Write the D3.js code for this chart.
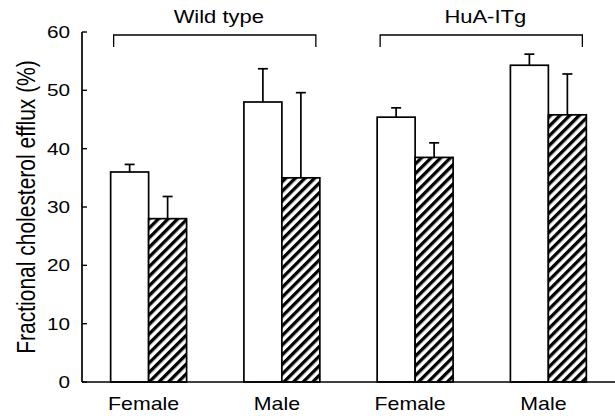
<!DOCTYPE html>
<html>
<head>
<meta charset="utf-8">
<script src="https://cdn.jsdelivr.net/npm/d3@7"></script>
<style>
  html, body { margin: 0; padding: 0; background: #fff; }
  svg { display: block; }
  text { font-family: "Liberation Sans", Arial, Helvetica, sans-serif; fill: #000; }
</style>
</head>
<body>
<svg id="chart" width="615" height="416"></svg>
<script>
// ---- Data ----
const categories = ["Female", "Male", "Female", "Male"];
const genotypes = ["Wild type", "Wild type", "HuA-ITg", "HuA-ITg"];
const groupLabels = ["Wild type", "HuA-ITg"];
const series = ["open", "hatched"];
const openValues = [36.0, 48.0, 45.4, 54.3];
const openErrors = [1.3, 5.7, 1.6, 1.9];
const hatchedValues = [28.0, 35.0, 38.5, 45.8];
const hatchedErrors = [3.8, 14.6, 2.5, 7.0];
const yTicks = [0, 10, 20, 30, 40, 50, 60];
const yTitle = "Fractional cholesterol efflux (%)";

// ---- Layout ----
const mLeft = 82, mRight = 615, mTop = 32, mBottom = 382;
const SX = 1.22; // horizontal glyph stretch seen in the reference

const svg = d3.select("#chart");

const defs = svg.append("defs");
const pat = defs.append("pattern")
  .attr("id", "hatch")
  .attr("patternUnits", "userSpaceOnUse")
  .attr("width", 6.8).attr("height", 6.8)
  .attr("patternTransform", "rotate(45)");
pat.append("rect").attr("width", 6.8).attr("height", 6.8).attr("fill", "#fff");
pat.append("rect").attr("x", 0).attr("width", 3.3).attr("height", 6.8).attr("fill", "#000");

const x = d3.scaleBand()
  .domain(d3.range(categories.length))
  .range([mLeft, mRight])
  .paddingInner(0.43)
  .paddingOuter(0.215);

const xs = d3.scaleBand()
  .domain(series)
  .range([0, x.bandwidth()]);

const y = d3.scaleLinear().domain([0, 60]).range([mBottom, mTop]);

// rows
const rows = [];
categories.forEach((c, i) => {
  rows.push({i, s: "open", v: openValues[i], e: openErrors[i]});
  rows.push({i, s: "hatched", v: hatchedValues[i], e: hatchedErrors[i]});
});

// error bars
const eb = svg.append("g").attr("stroke", "#000").attr("stroke-width", 1.7).attr("fill", "none");
rows.forEach(d => {
  const cx = x(d.i) + xs(d.s) + xs.bandwidth() / 2;
  eb.append("line").attr("x1", cx).attr("x2", cx).attr("y1", y(d.v)).attr("y2", y(d.v + d.e));
  eb.append("line").attr("x1", cx - 5).attr("x2", cx + 5).attr("y1", y(d.v + d.e)).attr("y2", y(d.v + d.e));
});

// bars
svg.append("g").selectAll("rect")
  .data(rows)
  .join("rect")
  .attr("x", d => x(d.i) + xs(d.s))
  .attr("y", d => y(d.v))
  .attr("width", xs.bandwidth())
  .attr("height", d => y(0) - y(d.v))
  .attr("fill", d => d.s === "open" ? "#fff" : "url(#hatch)")
  .attr("stroke", "#000")
  .attr("stroke-width", 1.7);

// axes
const yAxis = svg.append("g");
yAxis.append("line").attr("x1", mLeft).attr("x2", mLeft).attr("y1", y(60)).attr("y2", y(0))
  .attr("stroke", "#000").attr("stroke-width", 1.7);
yAxis.append("line").attr("x1", mLeft).attr("x2", mRight).attr("y1", y(0)).attr("y2", y(0))
  .attr("stroke", "#000").attr("stroke-width", 1.7);
yTicks.forEach(t => {
  yAxis.append("line").attr("x1", mLeft).attr("x2", mLeft + 5).attr("y1", y(t)).attr("y2", y(t))
    .attr("stroke", "#000").attr("stroke-width", 1.4);
  yAxis.append("text")
    .attr("transform", `translate(${mLeft - 12},${y(t) + 6}) scale(${SX},1)`)
    .attr("text-anchor", "end")
    .attr("font-size", 17)
    .text(t);
});

// x labels
categories.forEach((c, i) => {
  svg.append("text")
    .attr("transform", `translate(${x(i) + x.bandwidth() / 2 - 5},410) scale(${SX},1)`)
    .attr("text-anchor", "middle")
    .attr("font-size", 17.5)
    .text(c);
});

// group brackets
groupLabels.forEach(g => {
  const idx = d3.range(categories.length).filter(i => genotypes[i] === g);
  const x0 = x(d3.min(idx)) + 3;
  const x1 = x(d3.max(idx)) + x.bandwidth() - 4;
  const by = 35, bt = 47;
  svg.append("path")
    .attr("d", `M${x0},${bt}V${by}H${x1}V${bt}`)
    .attr("fill", "none").attr("stroke", "#000").attr("stroke-width", 1.3);
  svg.append("text")
    .attr("transform", `translate(${(x0 + x1) / 2 + 4},23) scale(${SX},1)`)
    .attr("text-anchor", "middle")
    .attr("font-size", 18)
    .text(g);
});

// y title
svg.append("text")
  .attr("transform", `translate(35,207) scale(${SX},1) rotate(-90)`)
  .attr("text-anchor", "middle")
  .attr("font-size", 21)
  .text(yTitle);
</script>
</body>
</html>
